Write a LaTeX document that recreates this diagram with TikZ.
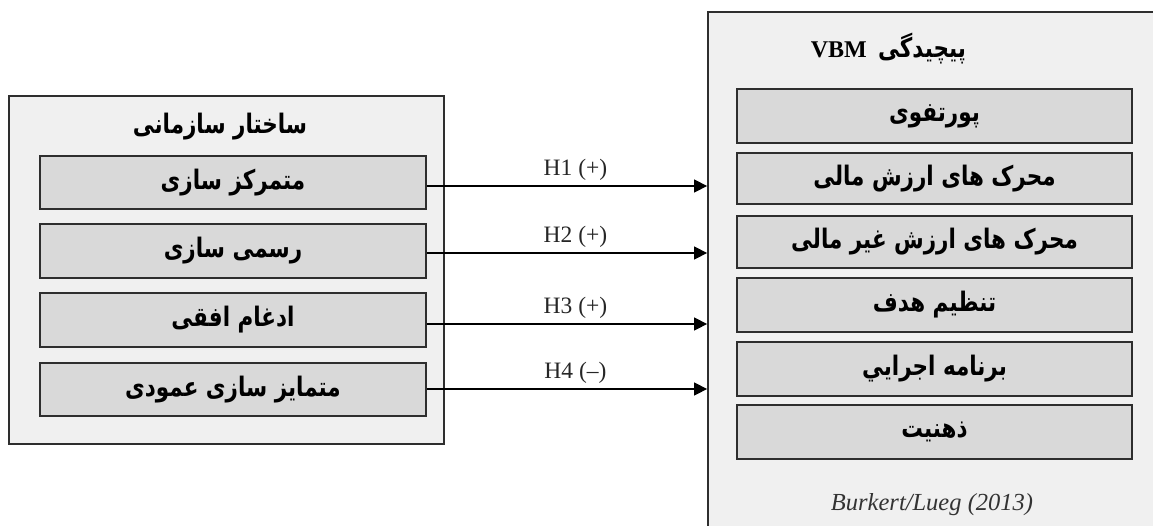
\documentclass[tikz,border=0pt]{standalone}
\usepackage{fontspec}
\usepackage{graphicx}
\setmainfont{Liberation Serif}
\newfontfamily\arabicfont[Script=Arabic]{DejaVu Sans}
\TeXXeTstate=1
\usetikzlibrary{arrows.meta}
\definecolor{outerfill}{HTML}{F0F0F0}
\definecolor{innerfill}{HTML}{D9D9D9}
\definecolor{edge}{HTML}{2E2E2E}
\tikzset{
  outerbox/.style={draw=edge, fill=outerfill, line width=1.8pt},
  innerbox/.style={draw=edge, fill=innerfill, line width=1.8pt, inner sep=0pt,
    font=\arabicfont\bfseries\fontsize{21.5}{26}\selectfont},
  titletext/.style={inner sep=0pt, font=\arabicfont\bfseries\fontsize{21.5}{26}\selectfont},
  arr/.style={draw=black, line width=1.4pt, -{Triangle[length=13pt,width=13pt]}},
  hlabel/.style={inner sep=0pt, font=\fontsize{23.5}{26}\selectfont, text=black!85},
}
\newcommand{\rtl}[1]{\scalebox{1}[1.25]{\beginR #1\endR}}
\begin{document}
\begin{tikzpicture}[x=1pt,y=-1pt]
\useasboundingbox[fill=white] (0,0) rectangle (1153,525);
% left container
\node[outerbox, minimum width=435pt, minimum height=348pt, inner sep=0pt] (lbox) at (226.5,270) {};
\node[titletext] (ltitle) at (220,127) {\rtl{ساختار سازمانی}};
\node[innerbox, minimum width=386pt, minimum height=53pt] (l1) at (233,182.5) {\rtl{متمرکز سازی}};
\node[innerbox, minimum width=386pt, minimum height=54pt] (l2) at (233,251) {\rtl{رسمی سازی}};
\node[innerbox, minimum width=386pt, minimum height=54pt] (l3) at (233,320) {\rtl{ادغام افقی}};
\node[innerbox, minimum width=386pt, minimum height=53pt] (l4) at (233,389.5) {\rtl{متمایز سازی عمودی}};
% right container (extends beyond the page)
\node[outerbox, minimum width=480pt, minimum height=540pt, inner sep=0pt] (rbox) at (948,282) {};
\node[titletext] (rtitle) at (922,49) {\rtl{پیچیدگی}};
\node[inner sep=0pt, anchor=base east, font=\bfseries\fontsize{24}{26}\selectfont] (vbm) at (867,57) {VBM};
\node[innerbox, minimum width=395pt, minimum height=54pt] (r1) at (934.5,116) {\rtl{پورتفوی}};
\node[innerbox, minimum width=395pt, minimum height=51pt] (r2) at (934.5,178.5) {\rtl{محرک های ارزش مالی}};
\node[innerbox, minimum width=395pt, minimum height=52pt] (r3) at (934.5,242) {\rtl{محرک های ارزش غیر مالی}};
\node[innerbox, minimum width=395pt, minimum height=54pt] (r4) at (934.5,305) {\rtl{تنظیم هدف}};
\node[innerbox, minimum width=395pt, minimum height=54pt] (r5) at (934.5,369) {\rtl{برنامه اجرايي}};
\node[innerbox, minimum width=395pt, minimum height=54pt] (r6) at (934.5,432) {\rtl{ذهنیت}};
\node[inner sep=0pt, font=\itshape\fontsize{24.5}{26}\selectfont, text=black!80] (src) at (932,505) {Burkert/Lueg (2013)};
% arrows
\coordinate (e1) at (l1.east |- 0,186);
\coordinate (e2) at (l2.east |- 0,253);
\coordinate (e3) at (l3.east |- 0,324);
\coordinate (e4) at (l4.east |- 0,389);
\draw[arr] (e1) -- (e1 -| rbox.west) node[hlabel, pos=0.53, above=5pt] {H1 (+)};
\draw[arr] (e2) -- (e2 -| rbox.west) node[hlabel, pos=0.53, above=5pt] {H2 (+)};
\draw[arr] (e3) -- (e3 -| rbox.west) node[hlabel, pos=0.53, above=5pt] {H3 (+)};
\draw[arr] (e4) -- (e4 -| rbox.west) node[hlabel, pos=0.53, above=5pt] {H4 (–)};
\end{tikzpicture}
\end{document}
